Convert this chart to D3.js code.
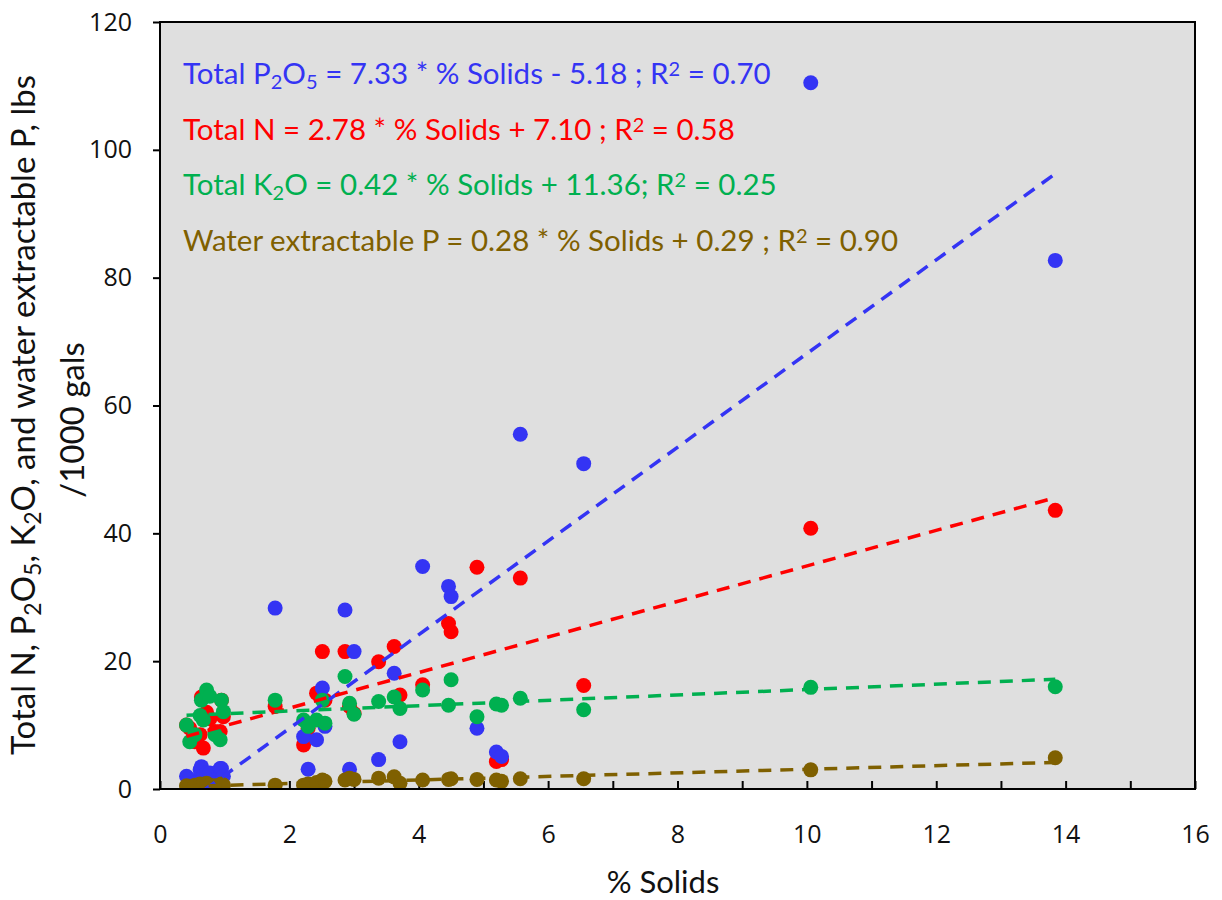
<!DOCTYPE html>
<html>
<head>
<meta charset="utf-8">
<script src="https://cdn.jsdelivr.net/npm/d3@7"></script>
<style>
  body { margin: 0; background: #fff; }
  svg { display: block; }
</style>
</head>
<body>
<div class="main"></div>
<script>
// % solids of each sample (shared x for all four series)
let solids = [0.41, 0.46, 0.54, 0.62, 0.64, 0.67, 0.72, 0.77, 0.85, 0.93, 0.95, 0.98,
  1.78, 2.22, 2.29, 2.42, 2.51, 2.55, 2.86, 2.93, 3.00, 3.38, 3.62, 3.71,
  4.06, 4.46, 4.50, 4.90, 5.20, 5.28, 5.57, 6.55, 10.06, 13.84]

let totalN = [10.0, 9.5, 7.4, 8.5, 14.4, 6.4, 12.0, 11.0, 9.0, 9.0, 13.9, 11.3,
  12.9, 6.9, 9.5, 15.0, 21.5, 13.9, 21.5, 12.9, 11.8, 19.9, 22.3, 14.7,
  16.3, 25.9, 24.6, 34.7, 4.3, 4.6, 33.0, 16.2, 40.8, 43.6]

let totalP2O5 = [2.0, 1.5, 1.0, 3.0, 3.5, 2.0, 2.5, 2.5, 1.5, 3.2, 3.2, 2.0,
  28.3, 8.2, 3.1, 7.7, 15.8, 9.8, 28.0, 3.1, 21.5, 4.6, 18.1, 7.4,
  34.8, 31.7, 30.1, 9.5, 5.8, 5.1, 55.5, 50.9, 110.5, 82.7]

let totalK2O = [10.0, 7.4, 8.5, 11.5, 13.9, 10.8, 15.5, 14.5, 8.5, 7.7, 13.9, 12.1,
  13.9, 10.8, 9.8, 10.8, 13.9, 10.3, 17.6, 13.4, 11.7, 13.7, 14.4, 12.6,
  15.5, 13.1, 17.1, 11.3, 13.3, 13.1, 14.2, 12.4, 15.9, 16.0]

let waterP = [0.5, 0.4, 0.6, 0.8, 0.5, 0.7, 0.9, 0.6, 0.5, 0.4, 0.8, 0.6,
  0.6, 0.6, 0.8, 1.0, 1.4, 1.2, 1.4, 1.7, 1.5, 1.7, 1.9, 0.9,
  1.4, 1.5, 1.6, 1.5, 1.4, 1.2, 1.6, 1.6, 3.0, 4.9]

// regression coefficients from the chart labels
let fitSlope = {n: 2.78, p: 7.33, k: 0.42, w: 0.28}
let fitIntercept = {n: 7.10, p: -5.18, k: 11.36, w: 0.29}

let xTicks = d3.range(0, 17)
let yTicks = [0, 20, 40, 60, 80, 100, 120]

let colors = {n: '#ff0000', p: '#3434f4', k: '#00b050', w: '#7f6000'}

let margin = {top: 22, right: 27, bottom: 111, left: 160}
let width = 1222, height = 900
let plotW = width - margin.left - margin.right
let plotH = height - margin.top - margin.bottom

let svg = d3.select('.main').append('svg')
  .attr('width', width)
  .attr('height', height)

let xScale = d3.scaleLinear().domain([0, 16]).range([0, plotW])
let yScale = d3.scaleLinear().domain([0, 120]).range([plotH, 0])

let g = svg.append('g').attr('transform', `translate(${margin.left}, ${margin.top})`)

g.append('rect')
  .attr('width', plotW).attr('height', plotH)
  .style('fill', '#dfdfdf')

g.append('clipPath').attr('id', 'plotclip')
  .append('rect').attr('width', plotW).attr('height', plotH)

// axes
let tickFont = '"Open Sans", sans-serif'
let xAxis = d3.axisBottom(xScale)
  .tickValues(xTicks)
  .tickFormat(d => d % 2 ? '' : d)
  .tickSizeInner(-8).tickSizeOuter(0).tickPadding(36)

let yAxis = d3.axisLeft(yScale)
  .tickValues(yTicks)
  .tickSizeInner(7).tickSizeOuter(0).tickPadding(21)

let gx = g.append('g').attr('transform', `translate(0, ${plotH})`).call(xAxis)
gx.select('.domain').remove()
gx.selectAll('line').attr('stroke', '#000').attr('stroke-width', 2)
gx.selectAll('text')
  .style('font-family', tickFont)
  .style('font-size', '25px').attr('fill', '#111')

let gy = g.append('g').call(yAxis)
gy.select('.domain').remove()
gy.selectAll('line').attr('stroke', '#000').attr('stroke-width', 2)
gy.selectAll('text')
  .style('font-family', tickFont)
  .style('font-size', '25px').attr('fill', '#111')

// points: N first, then P2O5, K2O, water P on top
let seriesOrder = [
  {key: 'n', vals: totalN},
  {key: 'p', vals: totalP2O5},
  {key: 'k', vals: totalK2O},
  {key: 'w', vals: waterP}
]

let pts = g.append('g').attr('clip-path', 'url(#plotclip)')
seriesOrder.forEach(s => {
  pts.append('g').selectAll('circle')
    .data(s.vals).enter().append('circle')
      .attr('cx', (d, i) => xScale(solids[i]))
      .attr('cy', d => yScale(d))
      .attr('r', 7.5)
      .style('fill', colors[s.key])
})

// dashed trend lines over the data range
let [xMin, xMax] = d3.extent(solids)
let line = d3.line().x(d => xScale(d[0])).y(d => yScale(d[1]))
let lines = g.append('g').attr('clip-path', 'url(#plotclip)')
;['p', 'n', 'k', 'w'].forEach(k => {
  let f = x => fitSlope[k] * x + fitIntercept[k]
  lines.append('path')
    .attr('d', line([[xMin, f(xMin)], [xMax, f(xMax)]]))
    .style('fill', 'none')
    .style('stroke', colors[k])
    .style('stroke-width', 3.5)
    .style('stroke-dasharray', '13,9')
})

// frame
g.append('rect')
  .attr('width', plotW).attr('height', plotH)
  .style('fill', 'none').style('stroke', '#000').style('stroke-width', 2)

// equations
let eqFont = 'Lato, "Open Sans", sans-serif'
let eqs = [
  {k: 'p', parts: [['Total P'], ['2', 'sub'], ['O'], ['5', 'sub'], [' = 7.33 * % Solids - 5.18 ; R'], ['2', 'sup'], [' = 0.70']]},
  {k: 'n', parts: [['Total N = 2.78 * % Solids + 7.10 ; R'], ['2', 'sup'], [' = 0.58']]},
  {k: 'k', parts: [['Total K'], ['2', 'sub'], ['O = 0.42 * % Solids + 11.36; R'], ['2', 'sup'], [' = 0.25']]},
  {k: 'w', parts: [['Water extractable P = 0.28 * % Solids + 0.29 ; R'], ['2', 'sup'], [' = 0.90']]}
]
let eqY = [84, 140, 195, 251]
eqs.forEach((e, i) => {
  let t = svg.append('text')
    .attr('x', 183).attr('y', eqY[i])
    .style('font-family', eqFont).style('font-size', '29.5px')
    .style('fill', colors[e.k])
  e.parts.forEach(p => {
    let ts = t.append('tspan').text(p[0])
    if (p[1] === 'sub') ts.attr('baseline-shift', '-25%').style('font-size', '20px')
    if (p[1] === 'sup') ts.attr('baseline-shift', '40%').style('font-size', '20px')
  })
})

// axis titles
svg.append('text')
  .attr('x', 663).attr('y', 893)
  .attr('text-anchor', 'middle')
  .style('font-family', eqFont).style('font-size', '31px').style('fill', '#111')
  .text('% Solids')

let yt = svg.append('text')
  .attr('transform', `translate(35, 415) rotate(-90)`)
  .attr('text-anchor', 'middle')
  .style('font-family', eqFont).style('font-size', '33px').style('fill', '#111')
let ytParts = [['Total N, P'], ['2', 'sub'], ['O'], ['5', 'sub'], [', K'], ['2', 'sub'], ['O, and water extractable P, lbs']]
ytParts.forEach(p => {
  let ts = yt.append('tspan').text(p[0])
  if (p[1] === 'sub') ts.attr('baseline-shift', '-25%').style('font-size', '23px')
})
svg.append('text')
  .attr('transform', `translate(84, 420) rotate(-90)`)
  .attr('text-anchor', 'middle')
  .style('font-family', eqFont).style('font-size', '33px').style('fill', '#111')
  .text('/1000 gals')
</script>
</body>
</html>
